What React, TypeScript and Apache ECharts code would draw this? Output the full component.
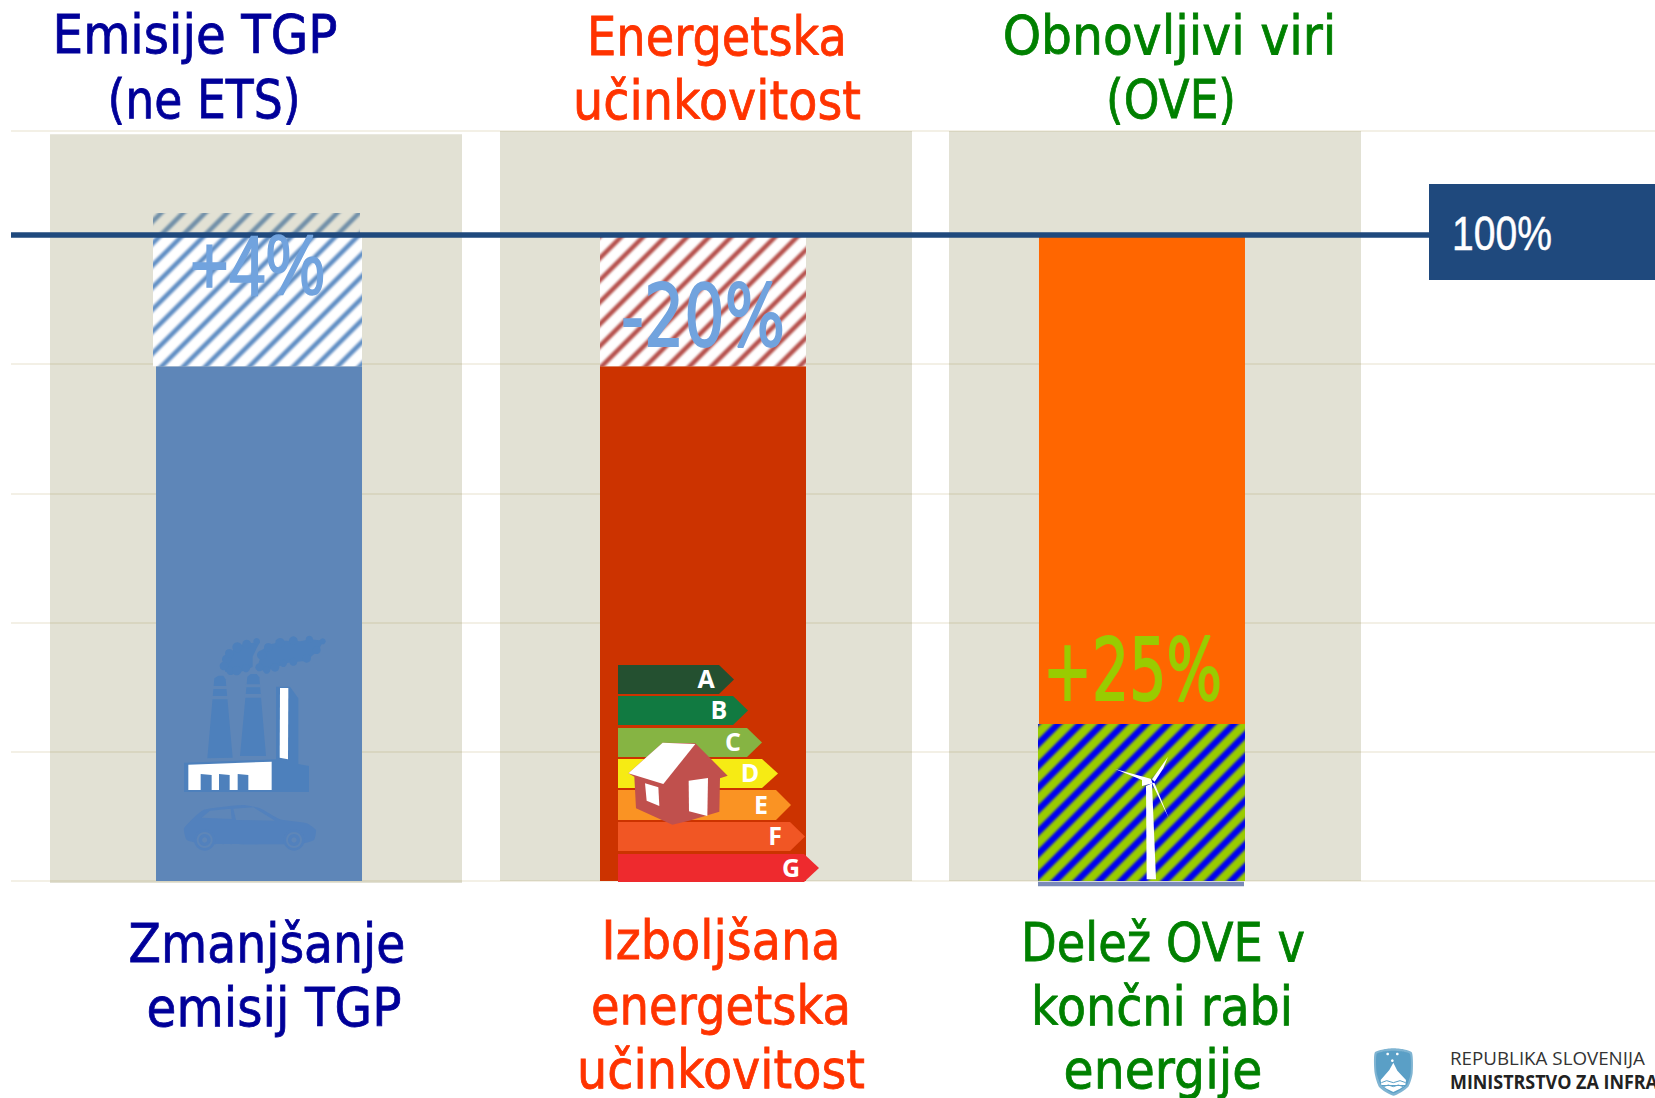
import React, { useEffect, useRef } from "react";
import * as echarts from "echarts";

// ---------- data ----------
const columns = [0, 1, 2];
const panelLow = [-0.3, 0, 0];
const panelHigh = [115.6, 116.1, 116.1];
const solidLow = [0, 0, 24.3];
const solidHigh = [79.7, 79.7, 100];
const hatchLow = [79.7, 79.7, 0];
const hatchHigh = [100, 100, 24.3];
const overshootLow = [100];
const overshootHigh = [103.4];
const baseStripLow = [-0.8];
const baseStripHigh = [-0.1];
const targetValue = 100;
const titles = [["Emisije TGP", "(ne ETS)"], ["Energetska", "učinkovitost"], ["Obnovljivi viri", "(OVE)"]];
const captions = [["Zmanjšanje", "emisij TGP"], ["Izboljšana", "energetska", "učinkovitost"], ["Delež OVE v", "končni rabi", "energije"]];
const changeLabels = ["+4%", "-20%", "+25%"];
const targetLabel = "100%";
const classLetters = ["A", "B", "C", "D", "E", "F", "G"];
const logoLines = ["REPUBLIKA SLOVENIJA", "MINISTRSTVO ZA INFRA"];

// ---------- layout and styles ----------
const PANEL_LEFT = [-206, -205.5, -206];
const SOLID_LEFT = [-100, -105.5, -116];
const HATCH_LEFT = [-103, -105.5, -117];
const HATCH_W = [209, 206, 207];
const PANEL_W = 412;
const BAR_W = 206;
const X_MIN = -0.5451;
const X_MAX = 3.1124;
const SOLID_COLORS = ["#5e86b8", "#cc3300", "#ff6600"];
const TITLE_COLORS = ["#000099", "#ff3300", "#008000"];
const SANS = "DejaVu Sans";
const ARIAL = "Liberation Sans";

const measure = document.createElement("canvas").getContext("2d")!;
function fit(text: string, font: string, size: number, weight: string, target: number) {
  measure.font = `${weight} ${size}px "${font}"`;
  return target / measure.measureText(text).width;
}
function txt(text: string, cx: number, baseline: number, size: number, width: number, fill: string, font = SANS, weight = "normal", z = 20, bold = 0.8) {
  return {
    type: "text",
    x: cx,
    y: baseline - 0.35 * size,
    scaleX: fit(text, font, size, weight, width),
    z,
    silent: true,
    style: {
      text, fill, stroke: fill, lineWidth: bold,
      font: `${weight} ${size}px "${font}"`,
      align: "center", verticalAlign: "middle", textAlign: "center", textVerticalAlign: "middle",
    },
  };
}
function hatch(fg: string, bg: string | null, width: number, blur: number) {
  const p = 22;
  const big = document.createElement("canvas");
  big.width = p * 3;
  big.height = p * 3;
  const g = big.getContext("2d")!;
  if (bg) {
    g.fillStyle = bg;
    g.fillRect(0, 0, p * 3, p * 3);
  }
  g.filter = `blur(${blur}px)`;
  g.strokeStyle = fg;
  g.lineWidth = width;
  for (let k = -3; k <= 9; k++) {
    g.beginPath();
    g.moveTo(k * p + p * 4, -p * 4);
    g.lineTo(k * p - p * 4, p * 4);
    g.stroke();
  }
  const c = document.createElement("canvas");
  c.width = p;
  c.height = p;
  c.getContext("2d")!.drawImage(big, -p, -p);
  return { image: c, repeat: "repeat", imageWidth: p, imageHeight: p };
}
// zoomed-crop coordinates (3x) to page pixels
const zp = (ox: number, oy: number, pts: number[][]) => pts.map(([x, y]) => [ox + x / 3, oy + y / 3]);
const poly = (ox: number, oy: number, pts: number[][], fill: string, z = 10, smooth = 0) => ({
  type: "polygon", z, silent: true, shape: { points: zp(ox, oy, pts), smooth }, style: { fill },
});
const dot = (ox: number, oy: number, x: number, y: number, r: number, fill: string, z = 10) => ({
  type: "circle", z, silent: true, shape: { cx: ox + x / 3, cy: oy + y / 3, r: r / 3 }, style: { fill },
});

function energyLabels() {
  const rows = [
    [618, 719, 734, 665, 694, "#245030", 706],
    [618, 733, 748, 696, 725, "#117a41", 719],
    [618, 747, 762, 728, 757, "#86b443", 733],
    [618, 762, 778, 759, 788, "#f6eb14", 750],
    [618, 776, 791, 790, 820, "#fa9323", 761],
    [618, 790, 805, 822, 851, "#f15624", 775],
    [618, 804, 819, 854, 882, "#ee2a2e", 791],
  ] as any[];
  const out: any[] = [];
  rows.forEach((r, i) => {
    const [x0, x1, x2, y0, y1, fill, tx] = r;
    out.push({ type: "polygon", z: 10, silent: true, shape: { points: [[x0, y0], [x1, y0], [x2, (y0 + y1) / 2], [x1, y1], [x0, y1]] }, style: { fill } });
    out.push({
      type: "text", z: 11, silent: true, x: tx, y: (y0 + y1) / 2 - 1.5,
      style: { text: classLetters[i], fill: "#ffffff", font: 'bold 25px "Open Sans"', textAlign: "center", textVerticalAlign: "middle", align: "center", verticalAlign: "middle" },
    });
  });
  // house
  const ox = 590, oy = 650;
  out.push(poly(ox, oy, [[115, 370], [218, 278], [316, 280], [413, 377], [390, 385], [388, 485], [297, 512], [247, 524], [138, 475], [133, 380]], "#c0504d", 12));
  out.push(poly(ox, oy, [[115, 370], [218, 278], [316, 282], [220, 402]], "#ffffff", 13));
  out.push(poly(ox, oy, [[165, 400], [205, 412], [208, 468], [170, 452]], "#ffffff", 13));
  out.push(poly(ox, oy, [[296, 392], [354, 384], [352, 498], [297, 484]], "#ffffff", 13));
  return out;
}

function factory() {
  const ox = 160, oy = 620, dark = "#4d80bc", bar = SOLID_COLORS[0];
  const e: any[] = [];
  e.push(poly(ox, oy, [[195, 155], [195, 120], [210, 100], [225, 85], [250, 72], [280, 68], [300, 66], [290, 85], [278, 110], [278, 140], [262, 150], [230, 158]], dark, 10));
  e.push(poly(ox, oy, [[290, 150], [300, 115], [305, 90], [335, 72], [375, 62], [420, 64], [452, 58], [490, 62], [476, 90], [440, 122], [385, 128], [350, 142], [320, 152]], dark, 10));
  [[200, 118, 14], [192, 138, 13], [212, 152, 13], [230, 152, 14], [208, 100, 13], [232, 82, 15], [260, 72, 13], [290, 64, 10], [258, 145, 12],
   [298, 142, 12], [320, 150, 11], [345, 142, 13], [305, 105, 14], [325, 82, 13], [360, 68, 14], [400, 62, 13], [448, 58, 11], [488, 64, 9], [470, 90, 12], [440, 115, 13], [400, 125, 12], [370, 130, 11]]
    .forEach(([x, y, r]) => e.push(dot(ox, oy, x, y, r, dark, 10)));
  e.push(poly(ox, oy, [[163, 175], [175, 167], [190, 167], [197, 178], [218, 413], [142, 415]], dark));
  e.push(poly(ox, oy, [[262, 170], [272, 162], [290, 162], [298, 172], [318, 408], [240, 408]], dark));
  e.push(poly(ox, oy, [[158, 198], [202, 198], [202, 207], [158, 207]], bar, 11));
  e.push(poly(ox, oy, [[155, 228], [204, 228], [205, 238], [154, 238]], bar, 11));
  e.push(poly(ox, oy, [[257, 193], [302, 193], [303, 202], [256, 202]], bar, 11));
  e.push(poly(ox, oy, [[254, 222], [304, 222], [305, 233], [253, 233]], bar, 11));
  e.push(poly(ox, oy, [[348, 200], [390, 200], [415, 235], [415, 432], [447, 438], [447, 516], [72, 516], [72, 428], [348, 418]], dark));
  e.push(poly(ox, oy, [[360, 204], [385, 204], [384, 418], [359, 413]], "#ffffff", 11));
  e.push(poly(ox, oy, [[85, 434], [335, 425], [335, 510], [85, 510]], "#ffffff", 11));
  [[122, 155], [177, 209], [233, 265]].forEach(([a, b]) =>
    e.push(poly(ox, oy, [[a, 462], [b, 465], [b, 510], [a, 510]], dark, 12)));
  // car
  e.push(poly(ox, oy, [[72, 625], [130, 570], [250, 555], [300, 565], [360, 598], [440, 610], [468, 630], [462, 660], [420, 672], [130, 672], [80, 660]], "#5281bd", 10, 0.15));
  e.push(poly(ox, oy, [[125, 593], [150, 572], [212, 566], [215, 597]], bar, 11));
  e.push(poly(ox, oy, [[220, 566], [280, 562], [345, 602], [228, 600]], bar, 11));
  [134, 402].forEach((x) => {
    e.push(dot(ox, oy, x, 660, 32, "#5281bd", 11));
    e.push(dot(ox, oy, x, 660, 24, bar, 12));
    e.push(dot(ox, oy, x, 660, 18, "#5281bd", 13));
    e.push(dot(ox, oy, x, 660, 8, bar, 14));
  });
  return e;
}

function turbine() {
  const ox = 1020, oy = 700, w = "#ffffff";
  return [
    poly(ox, oy, [[378, 258], [396, 250], [408, 538], [380, 538]], w),
    poly(ox, oy, [[285, 207], [392, 236], [398, 250], [366, 258], [366, 240]], w),
    poly(ox, oy, [[444, 170], [430, 205], [404, 245], [396, 238]], w),
    poly(ox, oy, [[396, 250], [403, 248], [447, 356], [420, 300]], w),
  ];
}

function logo() {
  const ox = 1340, oy = 1030, blue = "#5a9fc6", w = "#ffffff";
  return [
    poly(ox, oy, [[104, 68], [132, 58], [160, 55], [190, 58], [216, 68], [218, 130], [205, 170], [160, 197], [118, 172], [104, 130]], "#7fb4d2", 10, 0.2),
    poly(ox, oy, [[110, 72], [135, 64], [160, 62], [185, 64], [210, 72], [212, 128], [200, 166], [160, 190], [124, 166], [110, 128]], blue, 11, 0.2),
    poly(ox, oy, [[122, 150], [148, 120], [160, 98], [172, 122], [198, 150], [196, 165], [124, 165]], w, 12),
    poly(ox, oy, [[128, 168], [192, 168], [180, 176], [160, 186], [140, 176]], w, 12),
    dot(ox, oy, 143, 72, 4, w, 12),
    dot(ox, oy, 172, 72, 4, w, 12),
    dot(ox, oy, 157, 92, 4, w, 12),
    { type: "polyline", z: 13, silent: true, shape: { points: zp(ox, oy, [[124, 158], [140, 152], [160, 158], [180, 152], [197, 158]]) }, style: { stroke: blue, lineWidth: 1, fill: "none" } },
    { type: "polyline", z: 13, silent: true, shape: { points: zp(ox, oy, [[130, 170], [145, 165], [160, 170], [175, 165], [190, 170]]) }, style: { stroke: blue, lineWidth: 1, fill: "none" } },
  ];
}

function rectSeries(
  name: string,
  cols: number[],
  low: number[],
  high: number[],
  left: (col: number) => number,
  width: (col: number) => number,
  fill: (col: number) => any,
  z = 2,
) {
  return {
    type: "custom",
    name,
    z,
    silent: true,
    clip: false,
    coordinateSystem: "cartesian2d",
    encode: { x: 0, y: [1, 2] },
    data: cols.map((c, i) => [c, low[i], high[i]]),
    renderItem: (_p: any, api: any) => {
      const col = api.value(0);
      const a = api.coord([col, api.value(2)]);
      const b = api.coord([col, api.value(1)]);
      return {
        type: "rect",
        shape: { x: a[0] + left(col), y: a[1], width: width(col), height: b[1] - a[1] },
        style: { fill: fill(col) },
      };
    },
  };
}

export default function App() {
  const ref = useRef<HTMLDivElement>(null);
  useEffect(() => {
    document.body.style.margin = "0";
    document.body.style.background = "#ffffff";
    const chart = echarts.init(ref.current!, null, { renderer: "svg" });
    const hatchFills = [
      hatch("#5f8dc4", "#ffffff", 4.6, 1),
      hatch("#b5504c", "#ffffff", 4.6, 1),
      hatch("#0000f0", "#99cc00", 6.6, 0.8),
    ];
    const overshootFill = hatch("#6f8ea8", null, 4.6, 1);

    const titleSpec = [
      [[195, 53, 285], [204, 118, 193]],
      [[717, 55, 260], [717, 119, 288]],
      [[1169.5, 54, 334], [1171, 118, 130]],
    ];
    const captionSpec = [
      [[267, 962, 277], [274, 1026, 255]],
      [[721, 959, 239], [721, 1024, 260], [721, 1088, 288]],
      [[1163, 961, 284], [1162, 1025, 262], [1163, 1088, 199]],
    ];
    const labels: any[] = [];
    titles.forEach((ls, c) => ls.forEach((l, i) => {
      const [x, y, w] = titleSpec[c][i];
      labels.push(txt(l, x, y, 53, w, TITLE_COLORS[c]));
    }));
    captions.forEach((ls, c) => ls.forEach((l, i) => {
      const [x, y, w] = captionSpec[c][i];
      labels.push(txt(l, x, y, 53, w, TITLE_COLORS[c]));
    }));

    chart.setOption({
      animation: false,
      backgroundColor: "#ffffff",
      grid: { left: 11, right: 0, top: 131, bottom: 217 },
      tooltip: { show: false },
      xAxis: { type: "value", min: X_MIN, max: X_MAX, show: false, splitLine: { show: false } },
      yAxis: {
        type: "value",
        min: 0,
        max: 116.1,
        interval: 20,
        axisLine: { show: false },
        axisTick: { show: false },
        axisLabel: { show: false },
        splitLine: { show: true, lineStyle: { color: "#f3f0e6", width: 2 } },
      },
      series: [
        rectSeries("Panels", columns, panelLow, panelHigh, (c) => PANEL_LEFT[c], () => PANEL_W, () => "rgba(110,105,40,0.2)", 1),
        rectSeries("Solid", columns, solidLow, solidHigh, (c) => SOLID_LEFT[c], () => BAR_W, (c) => SOLID_COLORS[c]),
        rectSeries("Hatched", columns, hatchLow, hatchHigh, (c) => HATCH_LEFT[c], (c) => HATCH_W[c], (c) => hatchFills[c]),
        rectSeries("Overshoot", [0], overshootLow, overshootHigh, () => -103, () => BAR_W + 1, () => overshootFill),
        rectSeries("Base strip", [2], baseStripLow, baseStripHigh, () => -117, () => BAR_W, () => "#7a8ab8"),
        {
          type: "line",
          name: "Target",
          z: 5,
          silent: true,
          showSymbol: false,
          lineStyle: { color: "#1f497d", width: 5.5 },
          data: [[X_MIN, targetValue], [X_MAX, targetValue]],
        },
      ],
      graphic: {
        elements: [
          ...factory(),
          ...energyLabels(),
          ...turbine(),
          ...logo(),
          ...labels,
          { type: "rect", z: 15, silent: true, shape: { x: 1429, y: 184, width: 226, height: 96 }, style: { fill: "#1f497d" } },
          txt(targetLabel, 1502, 250, 49, 100, "#ffffff", ARIAL, "normal", 16, 0.5),
          txt(changeLabels[0], 257.5, 295, 86, 135, "#71a3de", ARIAL, "normal", 20, 1.6),
          txt(changeLabels[1], 703, 347, 86, 164, "#71a3de", SANS, "normal", 20, 2),
          txt(changeLabels[2], 1132.5, 700, 86, 179, "#99cc00", SANS, "normal", 20, 2),
          {
            type: "text", z: 20, silent: true, x: 1450, y: 1058,
            scaleX: fit(logoLines[0], "Open Sans", 19, "normal", 195),
            style: { text: logoLines[0], fill: "#333333", font: '19px "Open Sans"', textAlign: "left", textVerticalAlign: "middle", align: "left", verticalAlign: "middle" },
          },
          {
            type: "text", z: 20, silent: true, x: 1450, y: 1081,
            scaleX: fit(logoLines[1], "Open Sans", 19, "bold", 208),
            style: { text: logoLines[1], fill: "#222222", font: 'bold 19px "Open Sans"', textAlign: "left", textVerticalAlign: "middle", align: "left", verticalAlign: "middle" },
          },
        ],
      },
    });
    return () => chart.dispose();
  }, []);
  return <div ref={ref} style={{ width: 1655, height: 1098, position: "absolute", left: 0, top: 0, overflow: "hidden" }} />;
}
